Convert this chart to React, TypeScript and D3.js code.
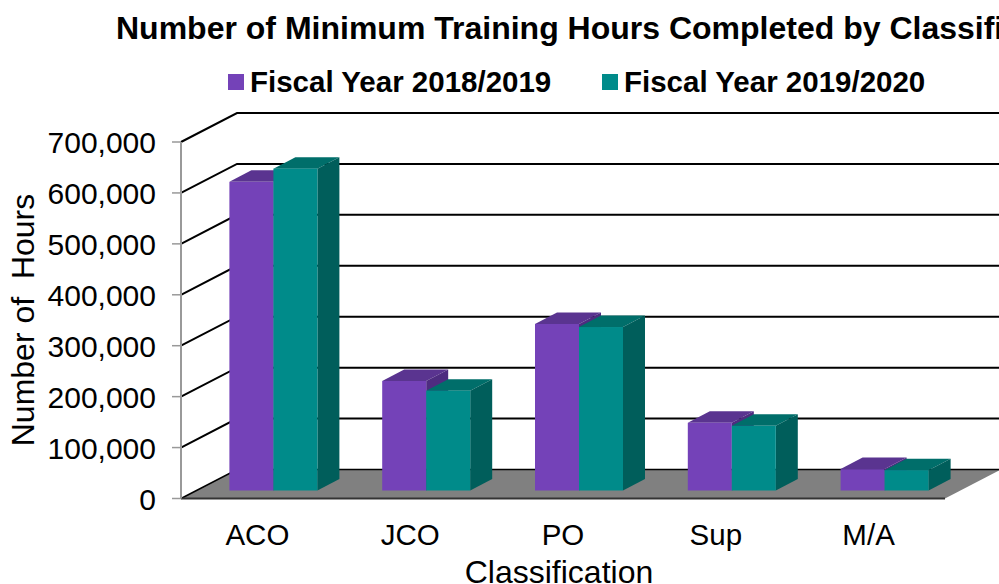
import React from 'react'
import * as d3 from 'd3'

const categories = ['ACO', 'JCO', 'PO', 'Sup', 'M/A']
const fy1819 = [606000, 215000, 327000, 133000, 42000]
const fy1920 = [632000, 196000, 321000, 127000, 40000]
const seriesNames = ['Fiscal Year 2018/2019', 'Fiscal Year 2019/2020']
const yTicks = [0, 100000, 200000, 300000, 400000, 500000, 600000, 700000]

const W = 999
const H = 584
const font = '"Liberation Sans", Arial, sans-serif'

const colors = [
  { front: '#7442B8', top: '#5A3490', side: '#4E2C80' },
  { front: '#008B8A', top: '#006E6A', side: '#005E5B' },
]

// wall depth, the floor sits behind the axis plane
const depth = { x: 56, y: -29 }
// bar front face sits part way into the floor
const barBase = { x: 16, y: -8 }
const barDepth = { x: 22, y: -11.5 }
const barW = 44

const x = d3.scaleBand().domain(categories).range([181, 945])
const y = d3.scaleLinear().domain([0, 700000]).range([498.5, 142])
const fmt = d3.format(',')

function poly(pts: [number, number][]) {
  const p = d3.path()
  pts.forEach((pt, i) => (i ? p.lineTo(pt[0], pt[1]) : p.moveTo(pt[0], pt[1])))
  p.closePath()
  return p.toString()
}

function Bar({ cat, val, idx }: { cat: string; val: number; idx: number }) {
  const c = colors[idx]
  const x0 = x(cat)! + x.bandwidth() / 2 + barBase.x - barW + idx * barW
  const x1 = x0 + barW
  const y0 = y(0) + barBase.y
  const yt = y(val) + barBase.y
  const dx = barDepth.x
  const dy = barDepth.y
  return (
    <g>
      <path d={poly([[x0, yt], [x1, yt], [x1 + dx, yt + dy], [x0 + dx, yt + dy]])} fill={c.top} />
      <path d={poly([[x1, y0], [x1, yt], [x1 + dx, yt + dy], [x1 + dx, y0 + dy]])} fill={c.side} />
      <rect x={x0} y={yt} width={barW} height={y0 - yt} fill={c.front} />
    </g>
  )
}

export default function App() {
  const left = x.range()[0]
  const right = x.range()[1]
  return (
    <svg
      width={W}
      height={H}
      viewBox={`0 0 ${W} ${H}`}
      style={{ position: 'absolute', left: 0, top: 0, display: 'block', background: '#fff' }}
      fontFamily={font}
    >
      <text x={116} y={39} fontSize={32} fontWeight="bold" fill="#000">
        Number of Minimum Training Hours Completed by Classification
      </text>

      <rect x={228} y={74} width={16} height={16} fill={colors[0].front} />
      <text x={250} y={92} fontSize={29.5} fontWeight="bold" fill="#000">{seriesNames[0]}</text>
      <rect x={602} y={74} width={16} height={16} fill={colors[1].front} />
      <text x={624} y={92} fontSize={29.5} fontWeight="bold" fill="#000">{seriesNames[1]}</text>

      <path
        d={poly([[left, y(0)], [left + depth.x, y(0) + depth.y], [right + depth.x, y(0) + depth.y], [right, y(0)]])}
        fill="#808080"
      />

      {yTicks.map(t => (
        <path
          key={t}
          d={`M${left},${y(t)}L${left + depth.x},${y(t) + depth.y}L${right + depth.x},${y(t) + depth.y}`}
          fill="none"
          stroke="#000"
          strokeWidth={t === 0 ? 1.5 : 2}
        />
      ))}
      <line x1={left} x2={right} y1={y(0)} y2={y(0)} stroke="#333" strokeWidth={2} />

      <line x1={left} x2={left} y1={y(700000)} y2={y(0)} stroke="#999" strokeWidth={2} />
      {yTicks.map(t => (
        <g key={t}>
          <line x1={left - 9} x2={left} y1={y(t)} y2={y(t)} stroke="#999" strokeWidth={1.5} />
          <text x={156} y={y(t) + 11} textAnchor="end" fontSize={30} fill="#000">{fmt(t)}</text>
        </g>
      ))}

      {categories.map((cat, i) => (
        <g key={cat}>
          <Bar cat={cat} val={fy1819[i]} idx={0} />
          <Bar cat={cat} val={fy1920[i]} idx={1} />
          <text x={x(cat)! + x.bandwidth() / 2} y={545} textAnchor="middle" fontSize={29.5} fill="#000">{cat}</text>
        </g>
      ))}

      <text x={559} y={583} textAnchor="middle" fontSize={32} fill="#000">Classification</text>
      <text
        transform="translate(34,320) rotate(-90)"
        textAnchor="middle"
        fontSize={32}
        fill="#000"
        xmlSpace="preserve"
      >
        Number of  Hours
      </text>
    </svg>
  )
}
